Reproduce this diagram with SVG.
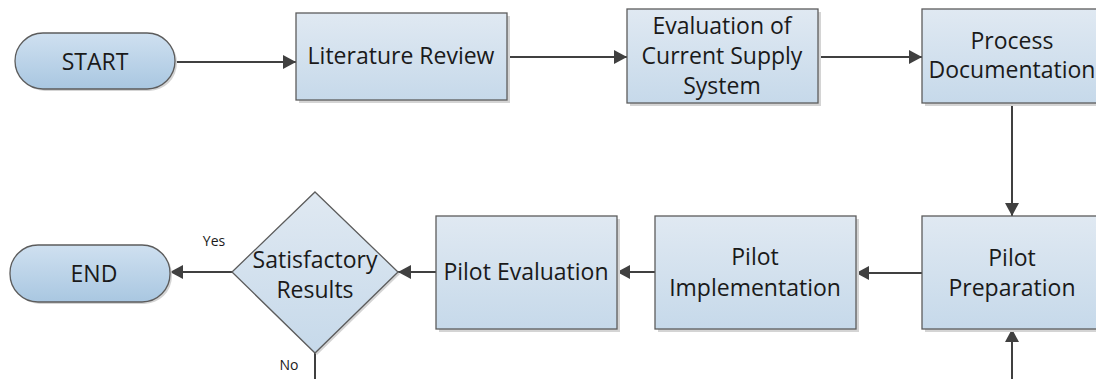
<svg xmlns="http://www.w3.org/2000/svg" width="1096" height="379" viewBox="0 0 1096 379">
<defs>
<linearGradient id="gBox" x1="0" y1="0" x2="0" y2="1">
<stop offset="0" stop-color="#e0e9f2"/>
<stop offset="1" stop-color="#c6d9ea"/>
</linearGradient>
<linearGradient id="gPill" x1="0" y1="0" x2="0" y2="1">
<stop offset="0" stop-color="#cfe0f0"/>
<stop offset="1" stop-color="#a9c7e1"/>
</linearGradient>
<marker id="arr" markerUnits="userSpaceOnUse" markerWidth="14" markerHeight="14" refX="13" refY="7" orient="auto">
<path d="M0,0 L13,7 L0,14 z" fill="#404040"/>
</marker>
</defs>
<style>
.box{fill:url(#gBox);stroke:#5c5c5c;stroke-width:1.3}
.pill{fill:url(#gPill);stroke:#5c5c5c;stroke-width:1.3}
.sh{fill:#d4d4d4}
.t{font-family:"Open Sans","Noto Sans",sans-serif;font-size:23px;fill:#1a1a1a;text-anchor:middle}
.s{font-family:"Open Sans","Noto Sans",sans-serif;font-size:14px;fill:#1a1a1a;text-anchor:middle}
.c{fill:none;stroke:#404040;stroke-width:2}
</style>
<g id="connectors">
<line class="c" x1="175" y1="62" x2="296" y2="62" marker-end="url(#arr)"/>
<line class="c" x1="507" y1="57" x2="627" y2="57" marker-end="url(#arr)"/>
<line class="c" x1="818" y1="57" x2="922" y2="57" marker-end="url(#arr)"/>
<line class="c" x1="1012" y1="103" x2="1012" y2="216" marker-end="url(#arr)"/>
<line class="c" x1="1012" y1="379" x2="1012" y2="329" marker-end="url(#arr)"/>
<line class="c" x1="922" y1="273" x2="856" y2="273" marker-end="url(#arr)"/>
<line class="c" x1="655" y1="272" x2="617" y2="272" marker-end="url(#arr)"/>
<line class="c" x1="436" y1="272" x2="398" y2="272" marker-end="url(#arr)"/>
<line class="c" x1="232" y1="272" x2="170" y2="272" marker-end="url(#arr)"/>
<line class="c" x1="315" y1="353" x2="315" y2="379"/>
<text class="s" x="214" y="246">Yes</text>
<text class="s" x="289" y="370">No</text>
</g>
<g id="start">
<rect class="sh" x="17" y="35" width="160" height="56" rx="28"/>
<rect class="pill" x="15" y="33" width="160" height="56" rx="28"/>
<text class="t" x="95" y="70">START</text>
</g>
<g id="literature-review">
<rect class="sh" x="299" y="16" width="211" height="87"/>
<rect class="box" x="296" y="13" width="211" height="87"/>
<text class="t" x="401" y="64">Literature Review</text>
</g>
<g id="evaluation">
<rect class="sh" x="630" y="12" width="191" height="94"/>
<rect class="box" x="627" y="9" width="191" height="94"/>
<text class="t" x="722" y="34">Evaluation of</text>
<text class="t" x="722" y="64">Current Supply</text>
<text class="t" x="722" y="94">System</text>
</g>
<g id="process-documentation">
<rect class="sh" x="925" y="12" width="180" height="94"/>
<rect class="box" x="922" y="9" width="180" height="94"/>
<text class="t" x="1012" y="49">Process</text>
<text class="t" x="1012" y="78">Documentation</text>
</g>
<g id="pilot-preparation">
<rect class="sh" x="925" y="219" width="180" height="113"/>
<rect class="box" x="922" y="216" width="180" height="113"/>
<text class="t" x="1012" y="266">Pilot</text>
<text class="t" x="1012" y="296">Preparation</text>
</g>
<g id="pilot-implementation">
<rect class="sh" x="658" y="219" width="201" height="113"/>
<rect class="box" x="655" y="216" width="201" height="113"/>
<text class="t" x="755" y="265">Pilot</text>
<text class="t" x="755" y="296">Implementation</text>
</g>
<g id="pilot-evaluation">
<rect class="sh" x="439" y="219" width="181" height="113"/>
<rect class="box" x="436" y="216" width="181" height="113"/>
<text class="t" x="526" y="280">Pilot Evaluation</text>
</g>
<g id="satisfactory-results">
<polygon class="sh" points="317,194 400,274 317,355 234,274"/>
<polygon class="box" points="315,192 398,272 315,353 232,272"/>
<text class="t" x="315" y="268">Satisfactory</text>
<text class="t" x="315" y="298">Results</text>
</g>
<g id="end">
<rect class="sh" x="12" y="247" width="160" height="57" rx="28"/>
<rect class="pill" x="10" y="245" width="160" height="57" rx="28"/>
<text class="t" x="94" y="282">END</text>
</g>
</svg>
